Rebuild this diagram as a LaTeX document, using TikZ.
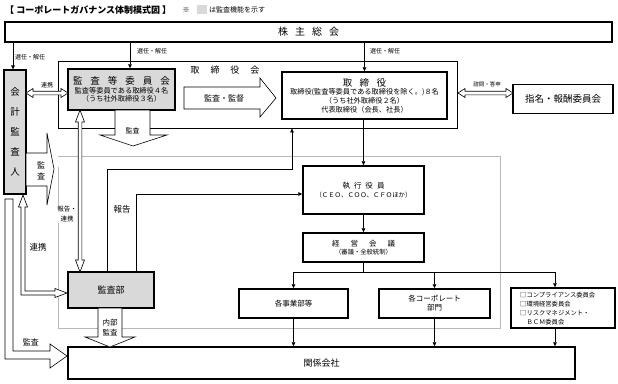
\documentclass[tikz,border=0pt]{standalone}
\usepackage{fontspec}
\setmainfont{Noto Sans CJK JP}
\usetikzlibrary{arrows.meta}
\newcommand\fsz[2]{\fontsize{#1pt}{#2pt}\selectfont}
\newcommand\gap[1]{\hspace{#1pt}}
\begin{document}
\begin{tikzpicture}[x=1pt,y=-1pt,
  heavy/.style={draw, line width=1.4pt, inner sep=0pt, align=center},
  light/.style={draw, line width=0.8pt, inner sep=0pt},
  conn/.style={line width=0.75pt, -{Triangle[length=4pt,width=3.6pt]}},
  plain/.style={line width=0.75pt},
  hollow/.style={draw, line width=0.6pt, fill=white, line join=miter},
  lbl/.style={inner sep=0pt, align=center},
  shade/.style={fill=gray!30}]
\useasboundingbox (0,0) rectangle (618,383);

% execution area (thin grey frame)
\draw[gray!55, line width=0.6pt] (58,167) -- (58,328) -- (500,328) -- (500,156) -- (58,156);

% title and legend
\node[lbl, anchor=west, font=\fsz{9}{10}\bfseries] (title) at (5,10) {【 コーポレートガバナンス体制模式図 】};
\node[lbl, font=\fsz{7}{8}] (kome) at (186,10) {※};
\node[fill=gray!30, minimum width=10pt, minimum height=9pt, inner sep=0pt] (legsq) at (202,9.5) {};
\node[lbl, anchor=west, font=\fsz{7}{8}] (legtxt) at (209,10) {は監査機能を示す};

% boxes
\node[heavy, minimum width=607pt, minimum height=20pt, font=\fsz{10}{12}] (kabu) at (308.5,32) {株\gap{7}主\gap{7}総\gap{7}会};
\node[light, minimum width=399pt, minimum height=67pt] (board) at (257.5,94.5) {};
\node[lbl, font=\fsz{9}{11}] (boardlbl) at (225,70) {取\gap{11}締\gap{11}役\gap{11}会};
\node[heavy, shade, minimum width=107pt, minimum height=41pt, font=\fsz{7.2}{8}] (kansatou) at (121.5,89.5)
  {{\fsz{9.5}{11}監\gap{8}査\gap{8}等\gap{8}委\gap{8}員\gap{8}会}\\[1pt] 監査等委員である取締役４名\\ （うち社外取締役３名）};
\node[heavy, minimum width=165pt, minimum height=47pt, font=\fsz{7.2}{8.6}] (tori) at (364.5,95.5)
  {{\fsz{9.5}{11}取\gap{7.5}締\gap{7.5}役}\\ 取締役(監査等委員である取締役を除く。)８名\\ （うち社外取締役２名）\\ 代表取締役（会長、社長）};
\node[heavy, minimum width=100pt, minimum height=29pt, font=\fsz{9.5}{11}] (shimei) at (563,99) {指名・報酬委員会};
\node[heavy, line width=1.2pt, shade, minimum width=22pt, minimum height=124pt, font=\fsz{9.5}{20}] (kaikei) at (15,132)
  {会\\計\\監\\査\\人};
\node[heavy, shade, minimum width=86pt, minimum height=36pt, font=\fsz{9}{11}] (kansabu) at (111,290) {監査部};
\node[heavy, minimum width=121pt, minimum height=48pt, font=\fsz{6.4}{8}] (shikkou) at (363.5,190)
  {{\fsz{7.5}{9}執\gap{4}行\gap{4}役\gap{4}員}\\[0.5pt] （ＣＥＯ、ＣＯＯ、ＣＦＯほか）};
\node[heavy, minimum width=121pt, minimum height=29pt, font=\fsz{6.3}{8}] (keiei) at (363.5,247.5)
  {{\fsz{7.5}{10}経\gap{11}営\gap{11}会\gap{11}議}\\[0.5pt] （審議・全般統制）};
\node[heavy, minimum width=109pt, minimum height=29pt, font=\fsz{7.5}{9}] (jigyou) at (293.5,303.5) {各事業部等};
\node[heavy, minimum width=111pt, minimum height=29pt, font=\fsz{7.5}{9}] (corp) at (434.5,303.5)
  {各コーポレート\\部門};
\node[heavy, minimum width=104pt, minimum height=40pt] (iinkai) at (563,308) {};
\node[lbl, anchor=west, align=left, font=\fsz{6.3}{9}] (iinkaitxt) at (520,308.5)
  {□コンプライアンス委員会\\ □環境経営委員会\\ □リスクマネジメント・\\ \hspace*{6.3pt}ＢＣＭ委員会};
\node[heavy, minimum width=507pt, minimum height=32pt, font=\fsz{9}{11}] (kankei) at (321.5,363) {関係会社};

% helper coordinates
\coordinate (x13) at (13,0);
\coordinate (x130) at (130,0);
\coordinate (r1) at (107,169);
\coordinate (r2) at (292,0);
\coordinate (r3) at (136,194);
\coordinate (bus) at (0,272);
\coordinate (x555) at (555,0);

% thin connectors
\draw[conn] (kabu.south -| x13) -- (kaikei.north -| x13);
\draw[conn] (kabu.south -| x130) -- (kansatou.north -| x130);
\draw[conn] (kabu.south -| tori.north) -- (tori.north);
\draw[conn] (tori.south -| shikkou.north) -- (shikkou.north);
\draw[conn] (kansabu.north -| r1) |- (r2 |- r1) -- (board.south -| r2);
\draw[conn] (kansabu.north -| r3) |- (shikkou.west |- r3);
\draw[conn] (shikkou.south) -- (keiei.north);
\draw[plain] (keiei.south) -- (keiei.south |- bus);
\draw[plain] (jigyou.north |- bus) -- (x555 |- bus);
\draw[conn] (jigyou.north |- bus) -- (jigyou.north);
\draw[conn] (corp.north |- bus) -- (corp.north);
\draw[conn] (x555 |- bus) -- (iinkai.north -| x555);
\draw[conn] (jigyou.south) -- (kankei.north -| jigyou.south);
\draw[conn] (corp.south) -- (kankei.north -| corp.south);
\draw[conn] (iinkai.south -| x555) -- (kankei.north -| x555);

\node[lbl, anchor=west, font=\fsz{6}{7}] (sen1) at (15,57) {選任・解任};
\node[lbl, anchor=west, font=\fsz{6}{7}] (sen2) at (137,51) {選任・解任};
\node[lbl, anchor=west, font=\fsz{6}{7}] (sen3) at (370,51) {選任・解任};

% hollow arrows
\draw[hollow] (26,93) -- (33,88.5) -- (33,91.2) -- (61,91.2) -- (61,88.5) -- (68,93) -- (61,97.5) -- (61,94.8) -- (33,94.8) -- (33,97.5) -- cycle;
\node[lbl, font=\fsz{6}{7}] (renkei1) at (47,85) {連携};
\draw[hollow] (458,93) -- (465,88.5) -- (465,91.2) -- (506,91.2) -- (506,88.5) -- (513,93) -- (506,97.5) -- (506,94.8) -- (465,94.8) -- (465,97.5) -- cycle;
\node[lbl, font=\fsz{5.5}{6}] (shimon) at (487,84) {諮問・答申};
\draw[hollow] (80,110) -- (84.5,122) -- (81.8,122) -- (81.8,260) -- (84.5,260) -- (80,272) -- (75.5,260) -- (78.2,260) -- (78.2,122) -- (75.5,122) -- cycle;
\draw[hollow] (23,195) -- (27.5,207) -- (25,207) -- (25,291) -- (55,291) -- (55,288.5) -- (67,293) -- (55,297.5) -- (55,295) -- (21,295) -- (21,207) -- (18.5,207) -- cycle;
\node[lbl, font=\fsz{8.5}{10}] (renkei2) at (38,247) {連携};
\draw[hollow] (26,153) -- (47,153) -- (47,133) -- (54,169) -- (47,205) -- (47,186) -- (26,186) -- cycle;
\node[lbl, font=\fsz{8}{11}] (kansa1) at (41,171) {監\\査};
\draw[hollow] (115,110) -- (115,135) -- (100,135) -- (133,146) -- (167,135) -- (150,135) -- (150,110) -- cycle;
\node[lbl, font=\fsz{7}{8}] (kansa2) at (132.5,131) {監査};
\draw[hollow] (184,87) -- (260,87) -- (260,78) -- (276,98) -- (260,117) -- (260,109) -- (184,109) -- cycle;
\node[lbl, font=\fsz{8}{9}] (kantoku) at (224,98) {監査・監督};
\draw[hollow] (98,308) -- (98,337) -- (85,337) -- (110,347) -- (135,337) -- (122,337) -- (122,308) -- cycle;
\node[lbl, font=\fsz{7.5}{10}] (naibu) at (110,328) {内部\\監査};
\draw[hollow] (5,199) -- (13,199) -- (13,351) -- (50,351) -- (50,344) -- (67,356) -- (50,368) -- (50,359) -- (5,359) -- cycle;
\node[lbl, font=\fsz{8}{9}] (kansa3) at (31,342) {監査};

\node[lbl, fill=white, inner sep=0.5pt, font=\fsz{6.5}{10}] (hokoku1) at (67,214) {報告・\\連携};
\node[lbl, font=\fsz{8.5}{10}] (hokoku2) at (122,209) {報告};
\end{tikzpicture}
\end{document}
